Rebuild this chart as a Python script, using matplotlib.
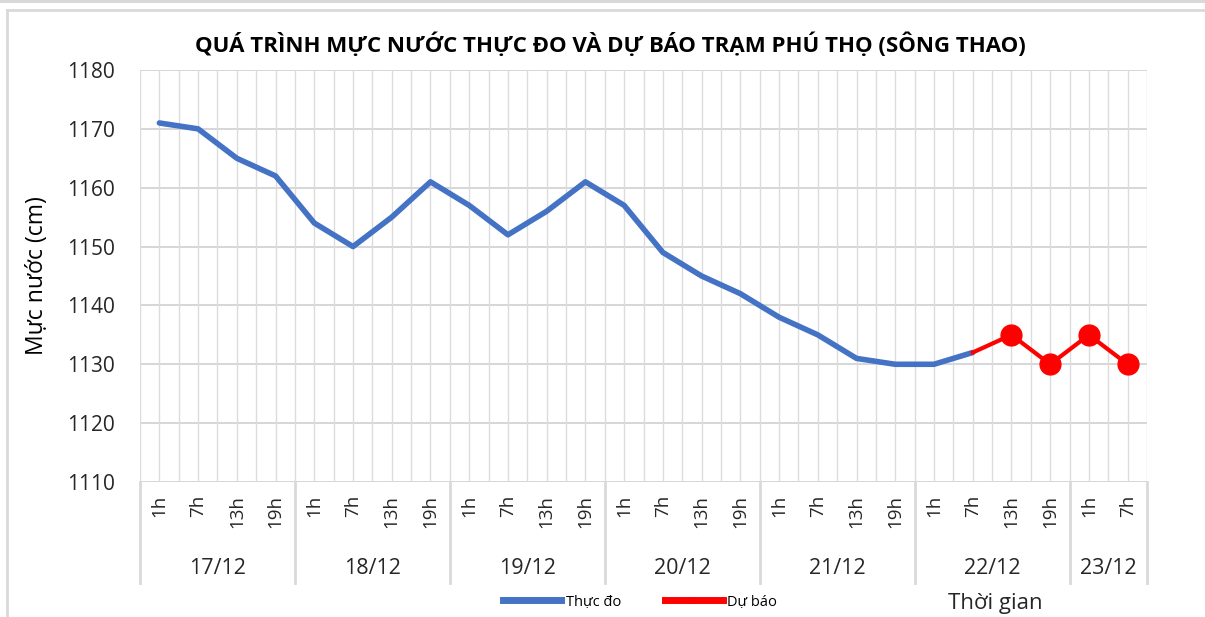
import numpy as np
import matplotlib
matplotlib.use("Agg")
import matplotlib.pyplot as plt
from matplotlib.lines import Line2D
import matplotlib.transforms as mtransforms

plt.rcParams['font.family'] = ['Open Sans', 'DejaVu Sans']

# data
days = ["17/12", "18/12", "19/12", "20/12", "21/12", "22/12", "23/12"]
hours = ["1h", "7h", "13h", "19h"] * 6 + ["1h", "7h"]
observed = [1171, 1170, 1165, 1162, 1154, 1150, 1155, 1161, 1157, 1152, 1156, 1161,
            1157, 1149, 1145, 1142, 1138, 1135, 1131, 1130, 1130, 1132]
forecast = [1132, 1135, 1130, 1135, 1130]   # starts at last observed point
fc_start = len(observed) - 1

W, H = 1205, 617
fig = plt.figure(figsize=(W / 100, H / 100), dpi=100)

# outer frame like a screenshot of the excel chart
fig.add_artist(plt.Rectangle((0, 1 - 3 / H), 1, 3 / H, transform=fig.transFigure,
                             color="#d9d9d9", lw=0))
fig.add_artist(Line2D([7 / W, 1], [1 - 10 / H, 1 - 10 / H], transform=fig.transFigure,
                      color="#d9d9d9", lw=2))
fig.add_artist(Line2D([7 / W, 7 / W], [0, 1 - 10 / H], transform=fig.transFigure,
                      color="#d9d9d9", lw=2))

left, right, top, bottom = 140, 1147, 70, 482
ax = fig.add_axes([left / W, 1 - bottom / H, (right - left) / W, (bottom - top) / H])

n = len(hours)
x = np.arange(n)
ax.plot(x[:len(observed)], observed, color="#4472c4", lw=4, solid_joinstyle="round",
        solid_capstyle="round", zorder=3)
xf = x[fc_start:fc_start + len(forecast)]
ax.plot(xf, forecast, color="#ff0000", lw=3, marker="o", markersize=15,
        markevery=list(range(1, len(forecast))), zorder=4)

ax.set_xlim(-0.5, n - 0.5)
ax.set_ylim(1110, 1180)
ax.set_yticks(np.arange(1110, 1181, 10))
ax.tick_params(axis="y", length=0, labelsize=15, pad=18, colors="#262626")
ax.set_xticks([])
for s in ax.spines.values():
    s.set_visible(False)

# gridlines
for yv in np.arange(1110, 1181, 10):
    ax.axhline(yv, color="#d0d0d0", lw=1.2, zorder=1)
for xv in np.arange(-0.5, n, 0.5):
    ax.axvline(xv, color="#dcdcdc", lw=1, zorder=1)

# multi-level category axis
trans = mtransforms.blended_transform_factory(ax.transData, ax.transAxes)
ph = bottom - top
for i, h in enumerate(hours):
    ax.text(i, -13 / ph, h, rotation=90, ha="center", va="top", fontsize=13.5,
            transform=trans, color="#262626")
bounds = [-0.5]
pos = -0.5
for d in days:
    size = 4 if d != days[-1] else 2
    ax.text(pos + size / 2, -86 / ph, d, ha="center", va="center", fontsize=15.5,
            transform=trans, color="#262626")
    pos += size
    bounds.append(pos)
for b in bounds:
    ax.add_line(Line2D([b, b], [0, -101 / ph], transform=trans, color="#d9d9d9",
                       lw=2, clip_on=False))

ax.set_ylabel("Mực nước (cm)", fontsize=16.5, labelpad=13, color="black")
fig.text(610 / W, 1 - 45 / H, "QUÁ TRÌNH MỰC NƯỚC THỰC ĐO VÀ DỰ BÁO TRẠM PHÚ THỌ (SÔNG THAO)",
         ha="center", va="center", fontsize=16, fontweight="bold", color="black")
fig.text(995 / W, 1 - 603 / H, "Thời gian", ha="center", va="center", fontsize=16,
         color="#262626")

handles = [Line2D([], [], color="#4472c4", lw=5),
           Line2D([], [], color="#ff0000", lw=5, marker="o", markersize=4)]
fig.legend(handles, ["Thực đo", "Dự báo"], loc="center", bbox_to_anchor=(640 / W, 1 - 602 / H),
           ncol=2, frameon=False, fontsize=10.5, handlelength=4, columnspacing=3,
           handletextpad=0.3)

fig.savefig("out.png", dpi=100)
